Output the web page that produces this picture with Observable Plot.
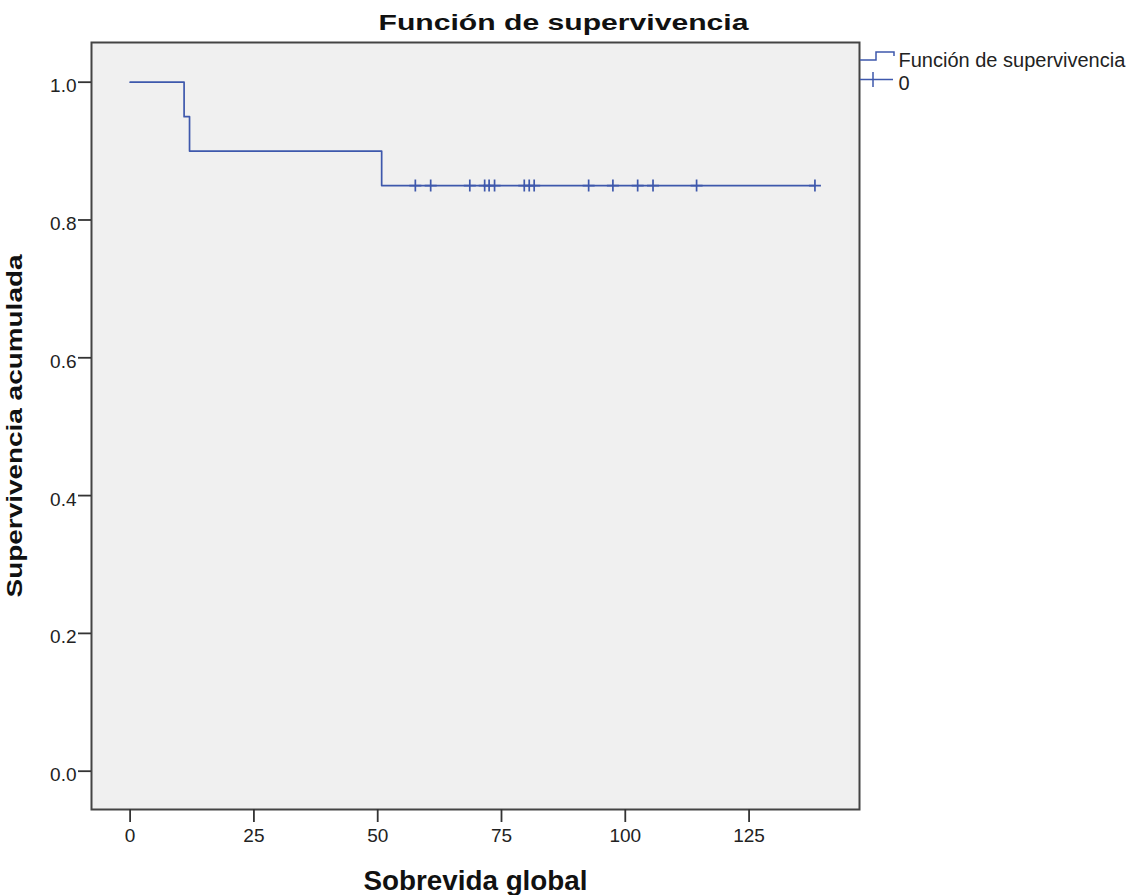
<!DOCTYPE html>
<html><head><meta charset="utf-8">
<script src="https://cdn.jsdelivr.net/npm/d3@7"></script>
<script src="https://cdn.jsdelivr.net/npm/@observablehq/plot@0.6"></script>
<style>body{margin:0;background:#fff}</style>
</head><body><div id="chart"></div>
<script>
// ---- data ----
const eventTimes = [0, 10.9, 12, 50.8, 138.3];
const survival = [1.0, 0.95, 0.90, 0.85, 0.85];
const censorTimes = [57.6, 60.7, 68.6, 71.6, 72.5, 73.6, 79.6, 80.6, 81.6, 92.6, 97.5, 102.5, 105.6, 114.4, 138.3];
const censorSurvival = [0.85, 0.85, 0.85, 0.85, 0.85, 0.85, 0.85, 0.85, 0.85, 0.85, 0.85, 0.85, 0.85, 0.85, 0.85];
const xTicks = [0, 25, 50, 75, 100, 125];
const yTicks = [0, 0.2, 0.4, 0.6, 0.8, 1.0];
const title = "Función de supervivencia";
const xTitle = "Sobrevida global";
const yTitle = "Supervivencia acumulada";
const legendLabels = ["Función de supervivencia", "0"];

// ---- chart ----
const color = "#3e58ac";
const curve = eventTimes.map((t, i) => ({t, s: survival[i]}));
const censored = censorTimes.map((t, i) => ({t, s: censorSurvival[i]}));
const plusSymbol = {draw(ctx, size) {
  const r = Math.sqrt(size / Math.PI);
  ctx.moveTo(-r, 0); ctx.lineTo(r, 0);
  ctx.moveTo(0, -r); ctx.lineTo(0, r);
}};

const chart = Plot.plot({
  width: 1133, height: 895,
  marginLeft: 91, marginRight: 274, marginTop: 42, marginBottom: 86,
  style: {fontFamily: "'Liberation Sans', Arial, sans-serif", fontSize: "19px", color: "#222", background: "#fff"},
  x: {domain: [-7.8, 147.3]},
  y: {domain: [-0.0556, 1.0576]},
  marks: [
    Plot.frame({fill: "#f0f0f0"}),
    Plot.line(curve, {x: "t", y: "s", curve: "step-after", stroke: color, strokeWidth: 1.7}),
    Plot.dot(censored, {x: "t", y: "s", symbol: plusSymbol, r: 6, stroke: color, strokeWidth: 1.7, fill: "none"}),
    Plot.frame({stroke: "#444", strokeWidth: 2}),
    Plot.axisX({ticks: xTicks, tickSize: 13, tickPadding: 6, label: null, stroke: "#333", strokeWidth: 1.8}),
    Plot.axisY({ticks: yTicks, tickSize: 13, tickFormat: () => "", label: null, stroke: "#333", strokeWidth: 1.8}),
    Plot.axisY({ticks: yTicks, tickSize: 0, tickPadding: 15, dy: 4, tickFormat: d3.format(".1f"), label: null}),
    Plot.text([title], {frameAnchor: "top", dx: 88, dy: -13, lineAnchor: "bottom", textAnchor: "middle", fontSize: 22, fontWeight: "bold", fill: "#111"}),
    Plot.text([xTitle], {frameAnchor: "bottom", dy: 80, lineAnchor: "bottom", textAnchor: "middle", fontSize: 27, fontWeight: "bold", fill: "#111"}),
    Plot.text([yTitle], {frameAnchor: "left", dx: -70, rotate: -90, lineAnchor: "bottom", textAnchor: "middle", fontSize: 22, fontWeight: "bold", fill: "#111"})
  ]
});

const lengths = {[title]: 370, [xTitle]: 224, [yTitle]: 343};
d3.select(chart).selectAll("text").each(function() {
  const L = lengths[this.textContent];
  if (L) d3.select(this).attr("textLength", L).attr("lengthAdjust", "spacingAndGlyphs");
});

// legend
const lg = d3.select(chart).append("g").attr("fill", "none").attr("stroke", color).attr("stroke-width", 1.5);
lg.append("path").attr("d", "M860,60H876V52H894V56");
lg.append("path").attr("d", "M860,79.5H893M873,72V87");
const lt = d3.select(chart).append("g").attr("font-size", 20).attr("fill", "#222").attr("text-anchor", "start");
lt.append("text").attr("x", 898.5).attr("y", 66.5).text(legendLabels[0]);
lt.append("text").attr("x", 898.5).attr("y", 90).text(legendLabels[1]);

document.getElementById("chart").appendChild(chart);
</script>
</body></html>
